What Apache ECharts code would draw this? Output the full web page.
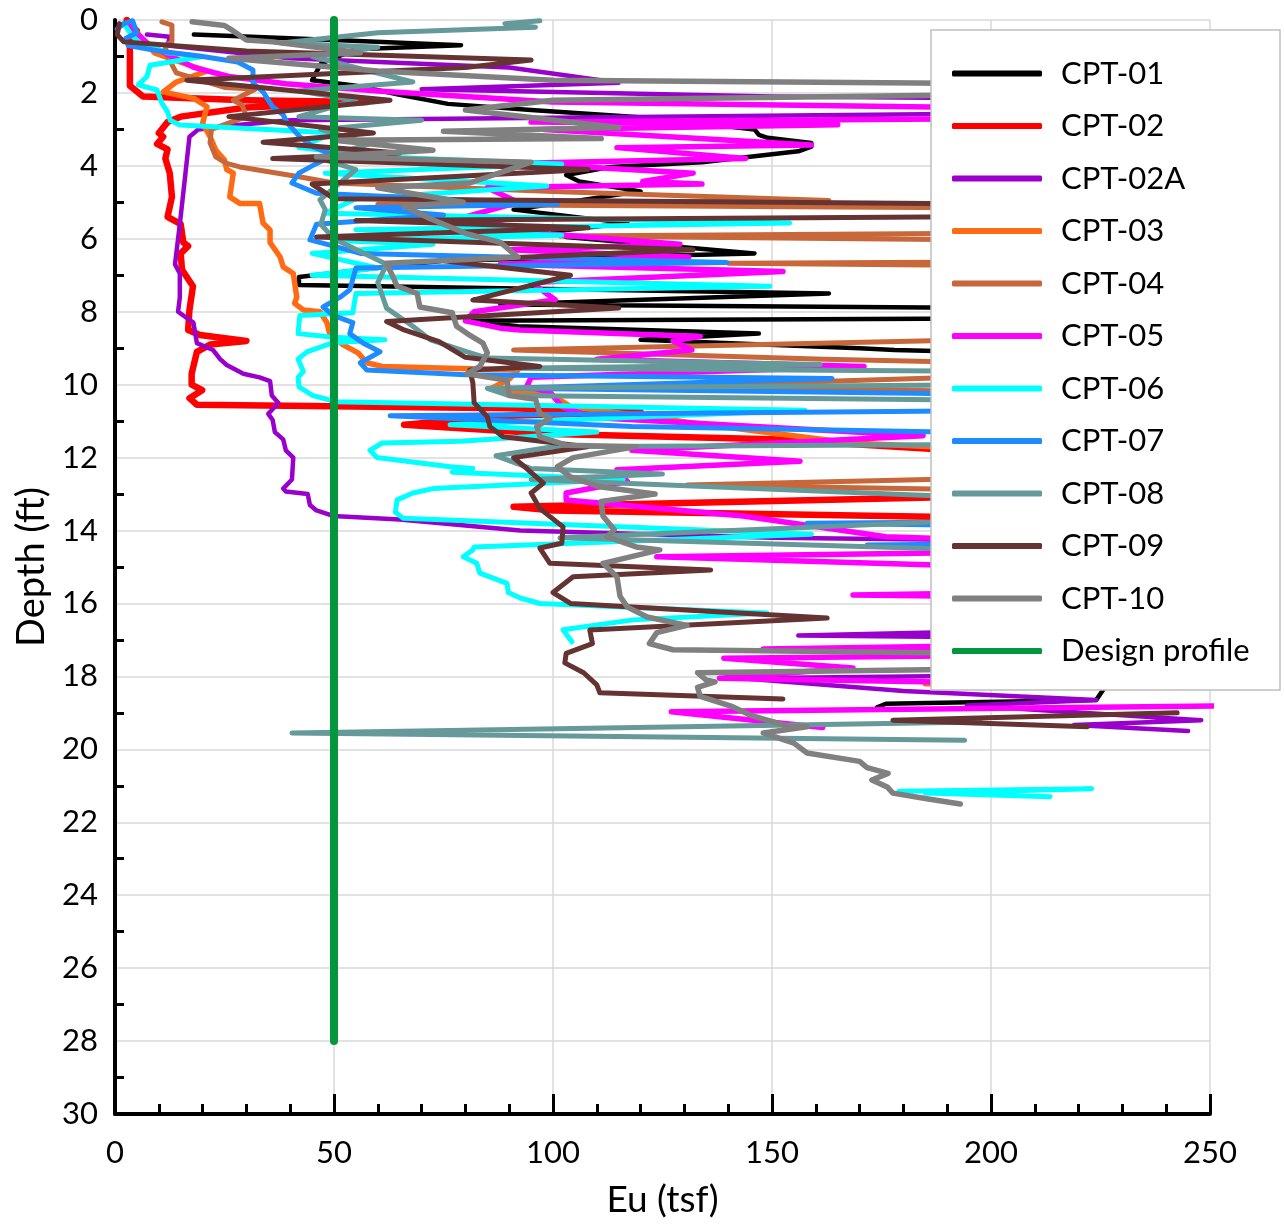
<!DOCTYPE html>
<html>
<head>
<meta charset="utf-8">
<title>Eu vs Depth</title>
<script src="https://cdn.jsdelivr.net/npm/echarts@6/dist/echarts.min.js"></script>
<style>
  html, body { margin: 0; padding: 0; background: #fff; }
  #chart { width: 1284px; height: 1225px; }
</style>
</head>
<body>
<div id="chart"></div>
<script>
// Undrained modulus Eu (tsf) against depth (ft) for each CPT sounding.
// Each point is [Eu, depth]; '-' breaks a trace. Values past 250 run off the plot.
var GAP = ['-', '-'];

var cpt01 = [[18,0.4],[50,0.55],[79,0.69],[55,0.8],[47,1.2],[45,1.65],[55,1.8],[65,2.05],[76,2.3],[95,2.47],[124,2.7],[146,3.0],[147,3.15],[149,3.23],[159,3.37],[159,3.47],[156,3.6],[134,3.9],[113,4.03],[103,4.25],[106,4.43],[120,4.7],[104,4.98],[91,5.2],[117,5.57],[100,5.8],[103,5.95],[146,6.4],[75,6.6],[62,6.77],[42,7.05],[42,7.27],[163,7.5],[88,7.8],[260,7.95],[260,8.15],[80,8.25],[92,8.4],[147,8.6],[120,8.77],[170,9.0],[178,9.05],[260,9.3],[260,18.3],[226,18.3],[224,18.65],[176,18.75],[174,18.85]];

var cpt02 = [[2.7,0.0],[5,0.3],[3.4,0.5],[3.4,1.8],[6.4,2.1],[30,2.2],[57.5,2.25],[30,2.4],[15,2.65],[12,2.8],[10,3.1],[11,3.2],[9.6,3.4],[12,3.55],[11.5,3.8],[12.5,4.2],[13,4.85],[12,5.4],[15,5.6],[15.6,6.1],[16.7,6.2],[15,6.4],[15.3,6.85],[17.8,7.3],[17,7.95],[16.7,8.5],[19.4,8.64],[30,8.8],[21.7,8.9],[18.7,9.1],[17.5,9.7],[17.5,10.0],[19.9,10.15],[17,10.37],[18.7,10.55],[90,10.65],[120,10.75],[90,10.85],[66,11.1],[100,11.35],[150,11.5],[185,11.75],[210,11.95],[260,12.2],[260,12.9],[91,13.35],[100,13.45],[200,13.65],[260,13.85],[260,14.5]];

var cpt02a = [[7.3,0.4],[12.5,0.46],[12,0.7],[40,1.05],[90,1.3],[115,1.72],[70,1.9],[150,2.1],[260,2.2],[260,2.5],[40,2.75],[26,2.9],[19,3.0],[17,3.2],[16,4.3],[14.8,5.6],[13.7,6.7],[14.8,6.95],[14.8,7.6],[14.4,8.0],[17.9,8.3],[18.7,8.86],[22.4,9.05],[24,9.3],[25.5,9.46],[29.3,9.7],[33,9.8],[35.4,9.9],[35.8,10.3],[37.3,10.5],[35,10.8],[36,10.97],[36.5,11.3],[38.4,11.5],[39,11.8],[40.7,12.0],[40.4,12.6],[38.4,12.85],[39,12.93],[44,13.0],[44.5,13.3],[46,13.45],[49.8,13.6],[65,13.7],[92.5,14.0],[150,14.2],[260,14.35],[260,16.6],[156,16.88],[260,17.0],[260,17.9],[143,18.05],[180,18.4],[224,18.65],[194.5,18.8],[248,19.2],[219,19.33],[245,19.5]];

var cpt03 = [[4,0.2],[9,0.9],[16,1.2],[21,1.4],[14,1.7],[11,1.97],[18,2.15],[21,2.38],[20,2.83],[21.7,3.2],[23,3.57],[25,3.84],[25.5,4.1],[27,4.2],[26.2,4.85],[28.5,5.03],[33,5.03],[33.8,5.57],[35.4,5.76],[35.4,6.1],[37.7,6.5],[38.4,6.77],[40.7,6.95],[41.5,7.6],[41,7.77],[43,7.95],[46.8,8.0],[48.4,8.3],[49,8.6],[52,8.9],[55.5,9.13],[57.5,9.4],[61,9.5],[92,9.6],[90,9.85],[86,10.1],[100,10.3],[104,10.6],[132,11.05],[168,11.6],[260,12.1],[260,18.0],[185,18.2],[260,18.3]];

var cpt04 = [[10.7,0.05],[13,0.14],[13,0.6],[11.4,0.7],[12,1.0],[14,1.45],[25,1.85],[32,1.9],[27,2.2],[29,2.33],[30,2.65],[22,3.0],[21.7,3.37],[23,3.75],[25.5,3.93],[28.5,4.03],[42,4.3],[50,4.47],[100,4.7],[163,4.95],[60,5.05],[260,5.2],[260,5.8],[101.6,5.92],[260,6.1],[260,6.6],[140,6.67],[260,6.8],[260,8.6],[91,9.05],[162,9.3],[260,9.55],[123.7,10.05],[260,10.3],[260,12.4],[130.6,12.75],[260,13.0]];

var cpt05 = [[3,0.15],[8,0.7],[18,1.3],[26,1.55],[39,1.75],[60,1.95],[100,2.25],[260,2.5],[260,2.65],[95,2.8],[165,2.87],[98,3.0],[159,3.43],[114.6,3.5],[144,3.8],[92.5,3.93],[132,4.2],[120.5,4.43],[134,4.5],[85,4.6],[92,5.0],[80,5.4],[97,5.85],[129,6.15],[90,6.3],[131,6.5],[88,6.7],[152.5,6.9],[95,7.2],[100.5,7.67],[82,8.0],[80,8.25],[88,8.45],[92.5,8.5],[133.6,8.68],[127.4,8.8],[131.7,9.05],[110,9.3],[171,9.5],[95,9.8],[94,10.05],[99.3,10.2],[102,10.6],[109,10.9],[184.5,11.4],[118,11.8],[156.4,12.1],[114.6,12.33],[117,12.66],[103,12.97],[103,13.16],[143.4,13.6],[176,14.17],[260,14.5],[123.7,14.72],[260,15.2],[260,15.6],[168.5,15.77],[260,15.9],[260,17.05],[148,17.25],[240,17.38],[139,17.5],[168.5,17.77],[138,18.05],[260,18.3],[260,18.8],[127,18.97],[161.6,19.4]];

var cpt06 = [[2,0.1],[4,0.45],[6,0.65],[12,0.9],[20,1.0],[8,1.24],[7.3,1.55],[5.3,1.78],[9.6,1.92],[10.7,2.28],[12,2.52],[12.6,2.75],[14.8,2.88],[50,3.1],[42,3.5],[60,3.75],[102,3.95],[48,4.2],[98.6,4.55],[55,4.9],[48,5.3],[154,5.57],[55,5.75],[102,5.9],[50,6.05],[72.6,6.15],[45,6.4],[60,6.8],[45,7.0],[149.5,7.3],[55,7.5],[54.3,8.03],[42.2,8.1],[41.8,8.6],[49.8,8.7],[61.6,8.77],[49.8,8.85],[43.8,9.1],[41.8,9.3],[43,9.64],[41.8,9.8],[42,10.06],[45.2,10.3],[48.4,10.4],[50,10.47],[157.5,10.7],[76.5,11.1],[110,11.3],[79,11.55],[61,11.6],[58.2,11.8],[59.8,12.0],[76.5,12.25],[81.7,12.3],[77,12.4],[116,12.6],[72.6,12.85],[68,12.97],[64.4,13.16],[64,13.5],[65.8,13.66],[159,14.1],[82,14.45],[81.7,14.53],[79.5,14.72],[82.6,14.9],[83.3,15.17],[89.5,15.45],[89.8,15.7],[92.5,15.85],[97,16.0],[148.8,16.26],[118.3,16.45],[102.3,16.72],[104.3,17.05],GAP,[179,21.15],[223,21.08],[185,21.2],[213.5,21.3]];

var cpt07 = [[0.5,0.25],[2,0.1],[4,0.02],[5,0.35],[2.5,0.5],[3,0.7],[10,0.85],[20,1.0],[28,1.15],[31.5,1.37],[31.5,1.73],[33.8,1.97],[36,2.38],[38.4,2.6],[39.3,2.82],[42.2,3.2],[45.2,3.48],[50,3.7],[45,4.0],[42,4.2],[40.4,4.47],[46,4.75],[101,5.05],[55,5.15],[75,5.35],[46,5.6],[44.5,6.03],[50,6.2],[56,6.4],[139.7,6.65],[55,6.8],[53.6,7.4],[51.4,7.6],[47.5,7.87],[49.8,8.1],[54.3,8.3],[53.6,8.6],[56.6,8.86],[60.5,9.1],[56,9.4],[57.5,9.6],[80,9.73],[163.7,9.83],[90,10.1],[260,10.35],[260,10.65],[62.8,10.85],[118,11.15],[260,11.45],[260,13.7],[158,13.8],[260,13.95],[260,14.3],[171.7,14.4],[260,14.5]];

var cpt08 = [[97,0.02],[89,0.1],[96,0.2],[60,0.35],[38,0.63],[60,0.75],[45,1.0],[68,1.7],[42,1.95],[55,2.2],[42,2.65],[70,2.75],[47,3.0],[58,3.4],[47,3.8],[55,4.1],[46.8,4.93],[48,5.2],[47,5.6],[50,6.0],[62,6.7],[60,7.2],[62,7.9],[68,8.4],[72,8.77],[80.4,9.1],[85,9.27],[161,9.45],[90,9.55],[260,9.68],[260,9.95],[85,10.1],[90,10.3],[260,10.5],[260,11.6],[100,11.7],[87,11.95],[95,12.3],[125,12.45],[95,12.6],[260,13.4],[101.6,14.2],[260,14.75],GAP,[197.5,19.25],[40.4,19.55],[194,19.75]];

var cpt09 = [[1,0.1],[0.5,0.4],[2,0.6],[30,0.85],[95,1.1],[80,1.3],[16.4,1.65],[62.8,2.2],[26,2.65],[59,3.1],[33.8,3.35],[65,3.65],[36,3.8],[108,4.1],[45,4.5],[50,4.9],[260,5.1],[260,5.35],[55,5.5],[108,5.7],[46,5.95],[132,6.3],[75,6.6],[104,7.0],[81.7,7.68],[115,7.9],[62,8.27],[66,8.5],[74,8.82],[80,9.25],[97,9.5],[81,9.6],[81.7,9.95],[82,10.5],[85,10.88],[85.6,11.15],[88.6,11.43],[107.8,11.7],[91,12.0],[94,12.3],[97.8,12.7],[95,12.97],[97,13.4],[102.3,13.9],[102,14.35],[97,14.48],[99.3,14.9],[136,15.08],[104.6,15.27],[100,15.7],[104,16.0],[162.6,16.4],[108.4,16.73],[109,17.1],[103,17.37],[102.7,17.63],[107,17.9],[110,18.23],[110.7,18.45],[152.5,18.62],GAP,[242.5,19.0],[177.6,19.2],[222,19.38]];

var cpt10 = [[17.6,0.05],[25,0.15],[27,0.3],[30,0.55],[36,0.6],[56,0.9],[26,1.05],[60,1.4],[100,1.65],[260,1.8],[260,1.95],[100,2.2],[80,2.47],[115,2.95],[75,3.05],[111,3.25],[50,3.3],[72.6,3.57],[46,3.75],[95,3.9],[81,4.47],[60,4.6],[79.5,5.0],[66,5.1],[72,5.45],[80,5.85],[88,6.1],[92,6.5],[62,6.67],[63.5,7.05],[64.4,7.3],[69,7.5],[69.6,7.87],[77,8.03],[78,8.4],[80.4,8.6],[84,8.86],[85,9.13],[83.3,9.5],[80.4,9.7],[89.5,9.88],[90,10.3],[96,10.4],[97,10.78],[99.3,10.92],[96.3,11.15],[97,11.43],[103,11.66],[119,11.7],[104.6,12.0],[101,12.25],[104,12.53],[110.7,12.8],[123.3,13.0],[111,13.2],[111.4,13.6],[114,13.98],[112.3,14.17],[119,14.45],[124.4,14.53],[111.4,14.9],[114.6,15.27],[115.3,15.8],[117,16.1],[121.5,16.37],[130.6,16.6],[123.7,16.8],[122,17.1],[127.4,17.27],[260,17.45],[260,17.7],[133,17.9],[135,18.1],[137,18.15],[133,18.3],[133.6,18.55],[141,18.83],[145,19.06],[154,19.38],[158,19.38],[148,19.55],[155,19.83],[158,20.1],[170,20.33],[171.7,20.5],[176.5,20.66],[172.8,20.84],[176.3,21.03],[177.6,21.2],[185,21.35],[193,21.5]];

var designProfile = [[50,0],[50,28]];

var seriesNames = ['CPT-01','CPT-02','CPT-02A','CPT-03','CPT-04','CPT-05','CPT-06','CPT-07','CPT-08','CPT-09','CPT-10','Design profile'];
var seriesData = [cpt01, cpt02, cpt02a, cpt03, cpt04, cpt05, cpt06, cpt07, cpt08, cpt09, cpt10, designProfile];
var seriesColors = ['#000000','#FF0000','#9900CC','#FF6A13','#C8673A','#FF00FF','#00FFFF','#1E8CFF','#669999','#663333','#808080','#03963C'];
var seriesWidths = [4.5, 6.5, 4.5, 5.5, 5, 5.5, 5, 5, 5, 5, 5.5, 8];

var xTicks = [0, 50, 100, 150, 200, 250];
var yTicks = [0, 2, 4, 6, 8, 10, 12, 14, 16, 18, 20, 22, 24, 26, 28, 30];

var FONT = 'Lato, "Open Sans", sans-serif';

var chart = echarts.init(document.getElementById('chart'), null, { renderer: 'canvas' });

var series = seriesNames.map(function (name, i) {
  return {
    name: name,
    type: 'line',
    data: seriesData[i],
    symbol: 'none',
    showSymbol: false,
    connectNulls: false,
    clip: true,
    animation: false,
    z: 2 + i * 0.01,
    lineStyle: { color: seriesColors[i], width: seriesWidths[i], cap: 'round', join: 'round' },
    itemStyle: { color: seriesColors[i] },
    emphasis: { disabled: true }
  };
});

chart.setOption({
  animation: false,
  backgroundColor: '#ffffff',
  textStyle: { fontFamily: FONT },
  grid: { left: 115, right: 74, top: 20, bottom: 111, containLabel: false },
  xAxis: {
    type: 'value',
    min: xTicks[0],
    max: xTicks[xTicks.length - 1],
    interval: 50,
    name: 'Eu (tsf)',
    nameLocation: 'middle',
    nameGap: 68,
    nameTextStyle: { fontFamily: FONT, fontSize: 37, color: '#000' },
    axisLine: { show: true, onZero: false, lineStyle: { color: '#000', width: 4 } },
    axisTick: { show: true, inside: true, length: 20, lineStyle: { color: '#000', width: 3 } },
    minorTick: { show: true, splitNumber: 5, length: 10, lineStyle: { color: '#000', width: 3 } },
    axisLabel: { fontFamily: FONT, fontSize: 31, color: '#000', margin: 23 },
    splitLine: { show: true, lineStyle: { color: '#D9D9D9', width: 1.5 } }
  },
  yAxis: {
    type: 'value',
    inverse: true,
    min: yTicks[0],
    max: yTicks[yTicks.length - 1],
    interval: 2,
    name: 'Depth (ft)',
    nameLocation: 'middle',
    nameRotate: 90,
    nameGap: 64,
    nameTextStyle: { fontFamily: FONT, fontSize: 38, color: '#000' },
    axisLine: { show: true, onZero: false, lineStyle: { color: '#000', width: 4 } },
    axisTick: { show: false, inside: true },
    minorTick: { show: true, splitNumber: 2, length: 9, lineStyle: { color: '#000', width: 3 } },
    axisLabel: { fontFamily: FONT, fontSize: 31, color: '#000', margin: 17 },
    splitLine: { show: true, lineStyle: { color: '#D9D9D9', width: 1.5 } }
  },
  graphic: [{
    type: 'rect',
    z: 100,
    shape: { x: 931, y: 30, width: 349, height: 660 },
    style: { fill: '#ffffff', stroke: '#BFBFBF', lineWidth: 1.5 }
  }],
  legend: {
    z: 110,
    orient: 'vertical',
    left: 931,
    top: 30,
    padding: [28, 10, 20, 21],
    icon: 'roundRect',
    itemWidth: 90,
    itemHeight: 6,
    itemGap: 21.5,
    selectedMode: false,
    data: seriesNames,
    textStyle: { fontFamily: FONT, fontSize: 31, color: '#000', lineHeight: 30, padding: [0, 0, 0, 14] }
  },
  series: series
});
</script>
</body>
</html>
